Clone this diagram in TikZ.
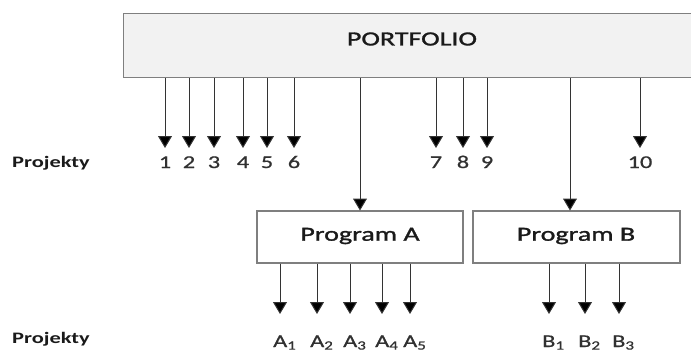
\documentclass[tikz,border=0pt]{standalone}
\usepackage{fontspec}
\setmainfont{Carlito}[FakeStretch=1.4]
\newfontfamily\medfont{Carlito}[FakeStretch=1.4,FakeBold=1.5]
\newfontfamily\numfont{Carlito}[FakeStretch=1.35,FakeBold=0.8]
\usetikzlibrary{arrows.meta}
\definecolor{boxline}{HTML}{7F7F7F}
\definecolor{boxfill}{HTML}{F2F2F2}
\definecolor{txt}{HTML}{1A1A1A}
\tikzset{
  arr/.style={draw=black!80, line width=1pt, -{Triangle[width=14pt,length=12pt,fill=black]}},
  bigbox/.style={draw=boxline, line width=1.2pt, inner sep=0pt},
  boxtext/.style={inner sep=0pt, text=txt, font=\fontsize{20}{24}\medfont},
  num/.style={inner sep=0pt, anchor=base, text=txt!90, font=\fontsize{18}{20}\numfont},
  sub/.style={inner sep=0pt, anchor=base west, text=txt!90, font=\fontsize{18}{20}\numfont},
  proj/.style={inner sep=0pt, anchor=base west, text=txt, font=\fontsize{16}{19}\selectfont\bfseries}
}
\begin{document}
\begin{tikzpicture}[x=1pt,y=-1pt]
\useasboundingbox (0,0) rectangle (691,354);
% portfolio box
\node[bigbox, fill=boxfill, anchor=north west, minimum width=572pt, minimum height=64pt] (port) at (123,13) {};
\node[boxtext] (porttxt) at (412,39) {PORTFOLIO};
% program boxes
\node[bigbox, fill=white, minimum width=206pt, minimum height=52pt] (progA) at (360,237) {};
\node[boxtext] (progAtxt) at (360,236) {Program A};
\node[bigbox, fill=white, minimum width=207pt, minimum height=52pt] (progB) at (576.5,237) {};
\node[boxtext] (progBtxt) at (576,236) {Program B};
% Projekty labels
\node[proj] (projA) at (12,167) {Projekty};
\node[proj] (projB) at (12,343) {Projekty};
% top level projects
\foreach \i/\x in {1/165,2/189,3/214,4/243,5/267,6/294,7/436,8/463,9/487,10/640}{
  \coordinate (t\i) at (\x,148);
  \node[num] (n\i) at (\x,168) {\i};
  \draw[arr] (port.south -| t\i) -- (t\i);
}
% to programs
\coordinate (pa) at (360,210.5);
\coordinate (pb) at (570,210.5);
\draw[arr] (port.south -| pa) -- (pa);
\draw[arr] (port.south -| pb) -- (pb);
% program A projects
\foreach \i/\x in {1/280,2/317,3/350,4/382,5/410}{
  \coordinate (ta\i) at (\x,314);
  \draw[arr] (progA.south -| ta\i) -- (ta\i);
  \node[sub] (a\i) at (\x-7,347) {A\textsubscript{\i}};
}
% program B projects
\foreach \i/\x in {1/549,2/585,3/619}{
  \coordinate (tb\i) at (\x,314);
  \draw[arr] (progB.south -| tb\i) -- (tb\i);
  \node[sub] (b\i) at (\x-7,347) {B\textsubscript{\i}};
}
\end{tikzpicture}
\end{document}
